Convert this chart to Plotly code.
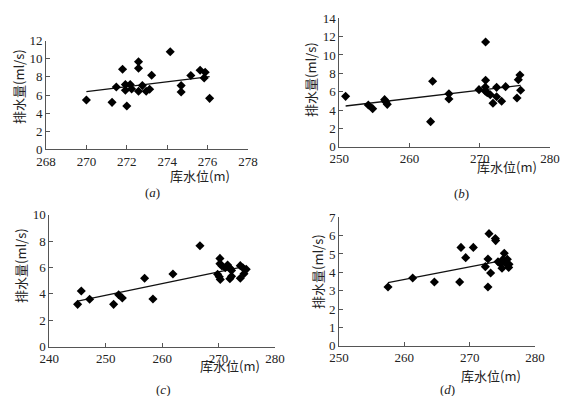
import plotly.graph_objects as go

# The page body has an 8px margin, so the figure is sized to fill the rest of the window.
OFF = 8
W, H = 571 - OFF, 396 - OFF

# ---- data ----
a_x = [270.0, 271.27, 271.48, 271.79, 271.93, 271.93, 272.0, 272.17, 272.24, 272.58, 272.58, 272.58,
       272.77, 272.96, 273.13, 273.23, 274.15, 274.69, 274.69, 275.17, 275.63, 275.88, 275.83, 276.1]
a_y = [5.44, 5.19, 6.89, 8.85, 7.15, 6.52, 4.78, 7.15, 6.67, 9.67, 8.96, 6.41,
       7.04, 6.41, 6.63, 8.19, 10.78, 7.04, 6.33, 8.15, 8.74, 8.52, 7.89, 5.63]
a_line_x = [270.0, 276.1]
a_line_y = [6.37, 8.04]

b_x = [250.9, 254.13, 254.75, 256.45, 256.64, 256.83, 263.0, 263.29, 265.61, 265.61, 269.89, 270.83,
       270.83, 270.79, 270.79, 271.07, 271.5, 271.88, 272.4, 272.4, 273.11, 273.68, 275.3, 275.49,
       275.72, 275.82]
b_y = [5.49, 4.55, 4.15, 5.13, 4.87, 4.62, 2.73, 7.13, 5.78, 5.2, 6.22, 11.42,
       7.24, 6.51, 6.04, 5.89, 5.67, 4.73, 6.47, 5.45, 4.95, 6.55, 5.31, 7.31,
       7.82, 6.15]
b_line_x = [250.9, 275.82]
b_line_y = [4.44, 6.69]

c_x = [245.02, 245.67, 247.15, 251.4, 252.29, 252.94, 256.89, 258.37, 261.91, 266.7, 270.24, 270.24,
       269.83, 270.12, 270.3, 270.6, 271.19, 271.6, 272.0, 272.3, 272.0, 272.3, 273.85, 273.85,
       274.3, 274.5, 274.9]
c_y = [3.21, 4.22, 3.59, 3.21, 3.94, 3.69, 5.18, 3.61, 5.51, 7.65, 6.69, 6.29,
       5.48, 5.3, 5.1, 6.11, 5.98, 6.19, 5.96, 5.78, 5.15, 5.33, 6.14, 5.18,
       5.98, 5.53, 5.86]
c_line_x = [245.02, 274.5]
c_line_y = [3.46, 6.06]

d_x = [257.5, 261.28, 264.6, 268.47, 268.67, 269.39, 270.56, 272.4, 272.8, 272.8, 272.96, 273.21,
       273.93, 273.98, 274.34, 274.74, 274.95, 275.05, 275.3, 275.46, 275.66, 275.77, 276.02, 275.97]
d_y = [3.2, 3.69, 3.47, 3.47, 5.36, 4.8, 5.36, 4.31, 4.73, 3.2, 6.11, 3.96,
       5.84, 5.73, 4.58, 4.45, 4.22, 4.69, 5.04, 4.58, 4.45, 4.71, 4.44, 4.27]
d_line_x = [257.5, 275.15]
d_line_y = [3.44, 4.65]

x_ranges = [[268, 278], [250, 280], [240, 280], [250, 280]]
x_dticks = [2, 10, 10, 10]
y_ranges = [[0, 12], [0, 14], [0, 10], [0, 7]]
y_dticks = [2, 2, 2, 1]
panel_labels = ["a", "b", "c", "d"]
x_title = "库水位(m)"
y_title = "排水量(ml/s)"

# ---- layout (window pixel boxes) ----
boxes = [  # left, right, top, bottom in window px
    (46, 248, 40.7, 149.3),
    (339.3, 550, 18.3, 146.7),
    (49.3, 275, 214.7, 346.7),
    (339, 535, 217.3, 345.7),
]
xtitle_pos = [(200, 175), (507, 166), (230, 365), (491, 375)]
ytitle_pos = [(19, 87), (310, 80), (20, 266), (317, 272)]
plabel_pos = [(152, 192), (461, 193), (163, 389), (447, 389)]


def px(x):
    return (x - OFF) / W


def py(y):
    return 1 - (y - OFF) / H


SERIF = "Liberation Serif, DejaVu Serif, serif"
CJK = "Noto Sans CJK SC"
AXC = "#555555"
TXT = "#222222"

fig = go.Figure()
series = [(a_x, a_y, a_line_x, a_line_y), (b_x, b_y, b_line_x, b_line_y),
          (c_x, c_y, c_line_x, c_line_y), (d_x, d_y, d_line_x, d_line_y)]

annotations = []
ann_common = dict(xref="paper", yref="paper", xanchor="center", yanchor="middle", showarrow=False)
for i, (sx, sy, lx, ly) in enumerate(series):
    n = "" if i == 0 else str(i + 1)
    xa, ya = "x" + n, "y" + n
    fig.add_trace(go.Scatter(x=lx, y=ly, mode="lines", xaxis=xa, yaxis=ya,
                             line=dict(color="#111111", width=1.3), showlegend=False))
    fig.add_trace(go.Scatter(x=sx, y=sy, mode="markers", xaxis=xa, yaxis=ya,
                             marker=dict(symbol="diamond", size=7, color="#000000"),
                             showlegend=False, cliponaxis=False))
    l, r, t, b = boxes[i]
    axcommon = dict(showline=True, linecolor=AXC, linewidth=1, ticks="inside", ticklen=4,
                    tickcolor=AXC, showgrid=False, zeroline=False, automargin=False,
                    tickfont=dict(family=SERIF, size=13, color=TXT))
    fig.layout["xaxis" + n] = dict(domain=[px(l), px(r)], range=x_ranges[i], dtick=x_dticks[i],
                                   tick0=x_ranges[i][0], anchor=ya, **axcommon)
    fig.layout["yaxis" + n] = dict(domain=[py(b), py(t)], range=y_ranges[i], dtick=y_dticks[i],
                                   tick0=0, anchor=xa, **axcommon)
    xp, yp = xtitle_pos[i]
    annotations.append(dict(x=px(xp), y=py(yp), text=x_title,
                            font=dict(family=CJK, size=13, color=TXT), **ann_common))
    xp, yp = ytitle_pos[i]
    annotations.append(dict(x=px(xp), y=py(yp), text=y_title, textangle=-90,
                            font=dict(family=CJK, size=13, color=TXT), **ann_common))
    xp, yp = plabel_pos[i]
    annotations.append(dict(x=px(xp), y=py(yp), text="(<i>" + panel_labels[i] + "</i>)",
                            font=dict(family=SERIF, size=13, color=TXT), **ann_common))

fig.update_layout(template="none", width=W, height=H, margin=dict(l=0, r=0, t=0, b=0, pad=0),
                  paper_bgcolor="white", plot_bgcolor="white", annotations=annotations)
fig.write_html("out.html")
